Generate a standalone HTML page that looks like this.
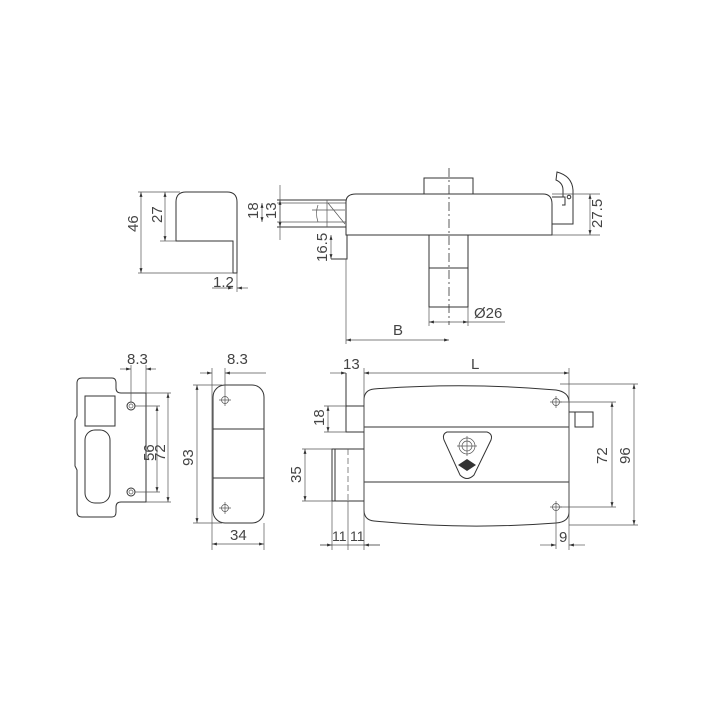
<!DOCTYPE html>
<html><head><meta charset="utf-8"><style>
html,body{margin:0;padding:0;background:#fff}
svg{display:block}
text{font-family:"Liberation Sans Narrow","Liberation Sans",sans-serif;font-size:15px;fill:#444}
.o{fill:none;stroke:#333;stroke-width:1}
.d{fill:none;stroke:#555;stroke-width:0.7}
.c{fill:none;stroke:#333;stroke-width:0.8;stroke-dasharray:9 3 2 3}
</style></head><body>
<svg width="720" height="720" viewBox="0 0 720 720" xmlns="http://www.w3.org/2000/svg">
<defs>
<marker id="a" viewBox="0 0 10 10" refX="10" refY="5" markerWidth="7" markerHeight="7" orient="auto-start-reverse"><path d="M0,2 L10,5 L0,8 z" fill="#333"/></marker>
</defs>

<!-- TOP: cap piece -->
<path class="o" d="M176,241 V202 Q176,192 186,192 H227 Q237,192 237,202 V273 H233 V241 Z"/>
<line class="d" x1="138" y1="192" x2="180" y2="192"/>
<line class="d" x1="138" y1="273" x2="233" y2="273"/>
<line class="d" x1="160" y1="241" x2="176" y2="241"/>
<line class="d" x1="141" y1="192" x2="141" y2="273" marker-start="url(#a)" marker-end="url(#a)"/>
<line class="d" x1="165" y1="192" x2="165" y2="241" marker-start="url(#a)" marker-end="url(#a)"/>
<text transform="translate(138,232) rotate(-90)">46</text>
<text transform="translate(162,223) rotate(-90)">27</text>
<line class="d" x1="237" y1="273" x2="237" y2="292"/>
<line class="d" x1="212" y1="288" x2="233" y2="288" marker-end="url(#a)"/>
<line class="d" x1="237" y1="288" x2="248" y2="288" marker-start="url(#a)"/>
<text x="213" y="287">1.2</text>

<!-- TOP: bolt & body -->
<line class="o" x1="277" y1="200" x2="346" y2="200"/>
<line class="d" x1="277" y1="203" x2="346" y2="203"/>
<line class="d" x1="277" y1="222" x2="346" y2="222"/>
<line class="o" x1="277" y1="227" x2="346" y2="227"/>
<path class="d" d="M312,210 H345 M327,200 V227 M328,203 L345,224 M318,205 Q315,213 318,222"/>
<line class="d" x1="280" y1="185" x2="280" y2="240" />
<line class="d" x1="280" y1="200" x2="280" y2="227" marker-start="url(#a)" marker-end="url(#a)"/>
<line class="d" x1="262" y1="203" x2="262" y2="222" marker-start="url(#a)" marker-end="url(#a)"/>
<text transform="translate(258,219) rotate(-90)">18</text>
<text transform="translate(276,219) rotate(-90)">13</text>
<path class="o" d="M346,235 V202 Q346,194 356,194 H543 Q552,194 552,204 V235 Z"/>
<rect class="o" x="424" y="178" width="49" height="16"/>
<path class="o" d="M429,235 V307 H468 V235 M429,268 H468"/>
<line class="c" x1="449" y1="168" x2="449" y2="325"/>
<path class="o" d="M347,235 V259 H331"/>
<line class="d" x1="331" y1="235" x2="331" y2="259" marker-start="url(#a)" marker-end="url(#a)"/>
<text transform="translate(327,262) rotate(-90)">16.5</text>
<line class="d" x1="346" y1="259" x2="346" y2="344"/>
<line class="d" x1="346" y1="340" x2="449" y2="340" marker-start="url(#a)" marker-end="url(#a)"/>
<text x="393" y="335">B</text>
<line class="d" x1="429" y1="307" x2="429" y2="326"/>
<line class="d" x1="468" y1="307" x2="468" y2="326"/>
<line class="d" x1="429" y1="322" x2="468" y2="322" marker-start="url(#a)" marker-end="url(#a)"/>
<line class="d" x1="468" y1="322" x2="505" y2="322"/>
<text x="474" y="318">Ø26</text>
<!-- hook -->
<path class="o" d="M552,197 H565 V205 H562 M552,224 H573 V190 Q572,176 557,172 L556,180 Q563,183 563,190 V197"/>
<circle class="o" cx="569" cy="197" r="1.8"/>
<line class="d" x1="552" y1="194" x2="600" y2="194"/>
<line class="d" x1="552" y1="235" x2="600" y2="235"/>
<line class="d" x1="590" y1="194" x2="590" y2="235" marker-start="url(#a)" marker-end="url(#a)"/>
<text transform="translate(602,228) rotate(-90)">27.5</text>

<!-- BOTTOM LEFT: strike plate -->
<path class="o" d="M82,378 H112 Q116,378 116,383 V388 Q116,393 121,393 H146 V502 H121 Q116,502 116,507 V512 Q116,517 112,517 H82 Q77,517 77,512 V470 L75,466 V420 L77,416 V383 Q77,378 82,378 Z"/>
<rect class="o" x="85" y="396" width="30" height="30"/>
<rect class="o" x="85" y="430" width="25" height="73" rx="10"/>
<circle class="o" cx="131" cy="406" r="4"/><circle class="d" cx="131" cy="406" r="2"/>
<circle class="o" cx="131" cy="492" r="4"/><circle class="d" cx="131" cy="492" r="2"/>
<line class="d" x1="131" y1="365" x2="131" y2="402"/>
<line class="d" x1="146" y1="365" x2="146" y2="393"/>
<line class="d" x1="120" y1="369" x2="131" y2="369" marker-end="url(#a)"/>
<line class="d" x1="146" y1="369" x2="156" y2="369" marker-start="url(#a)"/>
<text x="127" y="364">8.3</text>
<line class="d" x1="135" y1="406" x2="160" y2="406"/>
<line class="d" x1="135" y1="492" x2="160" y2="492"/>
<line class="d" x1="146" y1="393" x2="171" y2="393"/>
<line class="d" x1="146" y1="502" x2="171" y2="502"/>
<line class="d" x1="157" y1="406" x2="157" y2="492" marker-start="url(#a)" marker-end="url(#a)"/>
<line class="d" x1="168" y1="393" x2="168" y2="502" marker-start="url(#a)" marker-end="url(#a)"/>
<text transform="translate(154,461) rotate(-90)">56</text>
<text transform="translate(165,461) rotate(-90)">72</text>

<!-- BOTTOM MIDDLE plate -->
<rect class="o" x="213" y="385" width="51" height="138" rx="12"/>
<line class="o" x1="213" y1="429" x2="264" y2="429"/>
<line class="o" x1="213" y1="478" x2="264" y2="478"/>
<line class="d" x1="212" y1="368" x2="212" y2="550"/>
<line class="d" x1="264" y1="523" x2="264" y2="550"/>
<g class="d"><circle cx="225" cy="400" r="3.5"/><path d="M219,400 H231 M225,394 V406"/><circle cx="225" cy="508" r="3.5"/><path d="M219,508 H231 M225,502 V514"/></g>
<line class="d" x1="225" y1="368" x2="225" y2="394"/>
<line class="d" x1="200" y1="373" x2="212" y2="373" marker-end="url(#a)"/>
<line class="d" x1="225" y1="373" x2="266" y2="373" marker-start="url(#a)"/>
<text x="227" y="364">8.3</text>
<line class="d" x1="193" y1="385" x2="222" y2="385"/>
<line class="d" x1="193" y1="523" x2="222" y2="523"/>
<line class="d" x1="197" y1="385" x2="197" y2="523" marker-start="url(#a)" marker-end="url(#a)"/>
<text transform="translate(193,466) rotate(-90)">93</text>
<line class="d" x1="212" y1="544" x2="264" y2="544" marker-start="url(#a)" marker-end="url(#a)"/>
<text x="230" y="540">34</text>

<!-- BOTTOM RIGHT: lock -->
<path class="o" d="M364,400 Q364,390 374,389 Q465,382 556,390 Q569,392 569,402 V512 Q569,522 556,523 Q465,530 374,521 Q364,520 364,510 Z"/>
<line class="o" x1="364" y1="427" x2="569" y2="427"/>
<line class="o" x1="364" y1="482" x2="569" y2="482"/>
<line class="d" x1="364" y1="368" x2="364" y2="550"/>
<line class="d" x1="569" y1="368" x2="569" y2="550"/>
<path class="o" d="M346,373 V432 H364 M346,406 H364"/>
<line class="d" x1="324" y1="406" x2="346" y2="406"/>
<line class="d" x1="324" y1="432" x2="346" y2="432"/>
<line class="d" x1="328" y1="406" x2="328" y2="432" marker-start="url(#a)" marker-end="url(#a)"/>
<text transform="translate(324,426) rotate(-90)">18</text>
<path class="o" d="M364,449 H332 V501 H364 M335,449 V501"/>
<line class="d" x1="348" y1="449" x2="348" y2="501" stroke-dasharray="6 3"/>
<line class="d" x1="302" y1="449" x2="332" y2="449"/>
<line class="d" x1="302" y1="501" x2="332" y2="501"/>
<line class="d" x1="305" y1="449" x2="305" y2="501" marker-start="url(#a)" marker-end="url(#a)"/>
<text transform="translate(301,483) rotate(-90)">35</text>
<line class="d" x1="332" y1="501" x2="332" y2="550"/>
<line class="d" x1="348" y1="501" x2="348" y2="550"/>
<line class="d" x1="320" y1="545" x2="380" y2="545"/>
<line class="d" x1="320" y1="545" x2="332" y2="545" marker-end="url(#a)"/>
<line class="d" x1="364" y1="545" x2="380" y2="545" marker-start="url(#a)"/>
<text x="332" y="541" style="font-size:14px">11</text>
<text x="350" y="541" style="font-size:14px">11</text>
<line class="d" x1="330" y1="373" x2="346" y2="373" marker-end="url(#a)"/>
<line class="d" x1="364" y1="373" x2="569" y2="373" marker-start="url(#a)" marker-end="url(#a)"/>
<text x="343" y="369">13</text>
<text x="471" y="369">L</text>
<path class="o" d="M569,412 H593 V427 H575 V412"/>
<g class="d"><circle cx="556" cy="402" r="3.5"/><path d="M550,402 H562 M556,396 V408"/><circle cx="556" cy="507" r="3.5"/><path d="M550,507 H562 M556,501 V549"/></g>
<line class="d" x1="560" y1="402" x2="616" y2="402"/>
<line class="d" x1="560" y1="507" x2="616" y2="507"/>
<line class="d" x1="612" y1="402" x2="612" y2="507" marker-start="url(#a)" marker-end="url(#a)"/>
<text transform="translate(607,464) rotate(-90)">72</text>
<line class="d" x1="560" y1="384" x2="638" y2="384"/>
<line class="d" x1="569" y1="525" x2="638" y2="525"/>
<line class="d" x1="634" y1="384" x2="634" y2="525" marker-start="url(#a)" marker-end="url(#a)"/>
<text transform="translate(630,464) rotate(-90)">96</text>
<line class="d" x1="540" y1="545" x2="556" y2="545" marker-end="url(#a)"/>
<line class="d" x1="569" y1="545" x2="585" y2="545" marker-start="url(#a)"/>
<text x="559" y="542">9</text>
<!-- logo -->
<path class="o" d="M447,432 Q442,434 444,440 L460,475 Q467,482 474,475 L491,440 Q493,434 487,432 Z"/>
<circle class="d" cx="467" cy="446" r="8"/><circle class="d" cx="467" cy="446" r="5"/>
<path class="d" d="M457,446 H477 M467,436 V456"/>
<path d="M458,465 L467,459 L476,465 L467,471 Z" fill="#333"/>
</svg>
</body></html>
